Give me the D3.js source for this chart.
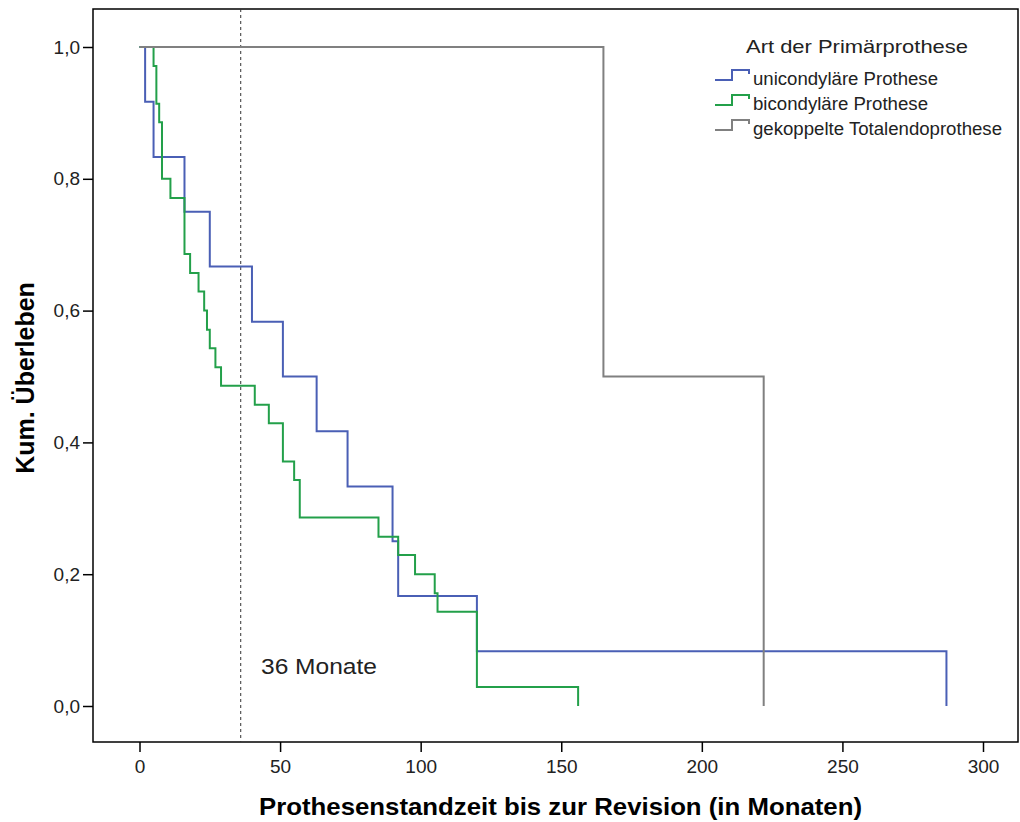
<!DOCTYPE html>
<html>
<head>
<meta charset="utf-8">
<script src="https://cdn.jsdelivr.net/npm/d3@7"></script>
<style>
  body { margin: 0; background: #fff; }
  text { font-family: "Liberation Sans", Arial, sans-serif; }
</style>
</head>
<body>
<div id="chart"></div>
<script>
// --- Data (Kaplan-Meier step points) ---
const seriesNames = ["unicondyläre Prothese", "bicondyläre Prothese", "gekoppelte Totalendoprothese"];
const seriesColors = ["#4a5fb5", "#23a04a", "#808080"];

const uniTimes = [0, 2, 5, 16, 25, 40, 51, 63, 74, 90, 92, 120, 287];
const uniSurv  = [1, 0.917, 0.833, 0.75, 0.667, 0.583, 0.5, 0.417, 0.333, 0.25, 0.167, 0.083, 0];

const biTimes = [0, 5, 6, 7, 8, 11, 16, 18, 21, 23, 24, 25, 27, 29, 41, 46, 51, 55, 57, 85, 92, 98, 105, 106, 120, 156];
const biSurv  = [1, 0.971, 0.914, 0.886, 0.8, 0.771, 0.686, 0.657, 0.629, 0.6, 0.571, 0.543, 0.514, 0.486,
                 0.457, 0.429, 0.371, 0.343, 0.286, 0.257, 0.229, 0.2, 0.171, 0.143, 0.029, 0];

const tkTimes = [0, 165, 222];
const tkSurv  = [1, 0.5, 0];

const xTicks = [0, 50, 100, 150, 200, 250, 300];
const yTicks = [0, 0.2, 0.4, 0.6, 0.8, 1.0];
const refMonth = 36;

// --- Setup ---
const width = 1020, height = 822;
const frame = { left: 93, right: 1018, top: 9, bottom: 742 };

const x = d3.scaleLinear().domain([0, 300]).range([139.5, 983]);
const y = d3.scaleLinear().domain([0, 1]).range([706, 47]);

const svg = d3.select("#chart").append("svg")
  .attr("width", width)
  .attr("height", height);

svg.append("rect").attr("width", width).attr("height", height).attr("fill", "#fff");

// frame
svg.append("rect")
  .attr("x", frame.left).attr("y", frame.top)
  .attr("width", frame.right - frame.left)
  .attr("height", frame.bottom - frame.top)
  .attr("fill", "none")
  .attr("stroke", "#000")
  .attr("stroke-width", 1.5);

// y axis
const yAxis = svg.append("g")
  .attr("transform", `translate(${frame.left},0)`)
  .call(d3.axisLeft(y).tickValues(yTicks).tickSize(10).tickSizeOuter(0)
    .tickFormat(d => d3.format(".1f")(d).replace(".", ",")));
yAxis.select(".domain").remove();
yAxis.selectAll(".tick line").attr("stroke", "#000").attr("stroke-width", 1.5);
yAxis.selectAll(".tick text").attr("font-size", 19).attr("fill", "#222").attr("x", -13);

// x axis
const xAxis = svg.append("g")
  .attr("transform", `translate(0,${frame.bottom})`)
  .call(d3.axisBottom(x).tickValues(xTicks).tickSize(10).tickSizeOuter(0));
xAxis.select(".domain").remove();
xAxis.selectAll(".tick line").attr("stroke", "#000").attr("stroke-width", 1.5);
xAxis.selectAll(".tick text").attr("font-size", 19).attr("fill", "#222")
  .attr("y", 31).attr("dy", 0);

// axis titles
svg.append("text")
  .attr("transform", `translate(33.5,378) rotate(-90)`)
  .attr("text-anchor", "middle")
  .attr("font-size", 25)
  .attr("font-weight", "bold")
  .text("Kum. Überleben");

svg.append("text")
  .attr("x", 259).attr("y", 815)
  .attr("font-size", 24)
  .attr("font-weight", "bold")
  .attr("textLength", 603)
  .attr("lengthAdjust", "spacingAndGlyphs")
  .text("Prothesenstandzeit bis zur Revision (in Monaten)");

// reference line at 36 months
svg.append("line")
  .attr("x1", x(refMonth)).attr("x2", x(refMonth))
  .attr("y1", frame.top).attr("y2", frame.bottom)
  .attr("stroke", "#333")
  .attr("stroke-width", 1)
  .attr("stroke-dasharray", "3,3");

svg.append("text")
  .attr("x", 261).attr("y", 674)
  .attr("font-size", 22)
  .attr("fill", "#222")
  .attr("textLength", 116)
  .attr("lengthAdjust", "spacingAndGlyphs")
  .text("36 Monate");

// curves
const line = d3.line()
  .x(d => x(d[0]))
  .y(d => y(d[1]))
  .curve(d3.curveStepAfter);

const curves = [
  d3.zip(uniTimes, uniSurv),
  d3.zip(biTimes, biSurv),
  d3.zip(tkTimes, tkSurv)
];

curves.forEach((pts, i) => {
  svg.append("path")
    .datum(pts)
    .attr("d", line)
    .attr("fill", "none")
    .attr("stroke", seriesColors[i])
    .attr("stroke-width", 2);
});

// legend
svg.append("text")
  .attr("x", 746).attr("y", 53)
  .attr("font-size", 19)
  .attr("fill", "#222")
  .attr("textLength", 222)
  .attr("lengthAdjust", "spacingAndGlyphs")
  .text("Art der Primärprothese");

const legendLens = [185, 175, 249];
seriesNames.forEach((name, i) => {
  const ly = 80 + i * 25;
  svg.append("path")
    .attr("d", `M715,${ly} H732 V${ly - 10} H749 V${ly - 6}`)
    .attr("fill", "none")
    .attr("stroke", seriesColors[i])
    .attr("stroke-width", 2);
  svg.append("text")
    .attr("x", 753).attr("y", ly + 5)
    .attr("font-size", 17.5)
    .attr("fill", "#222")
    .attr("textLength", legendLens[i])
    .attr("lengthAdjust", "spacingAndGlyphs")
    .text(name);
});
</script>
</body>
</html>
